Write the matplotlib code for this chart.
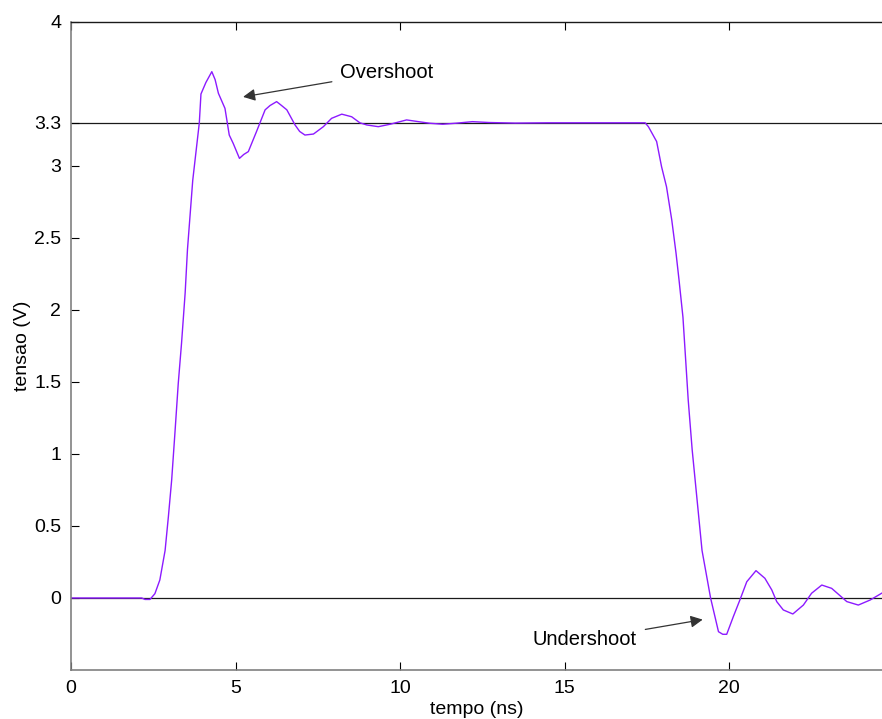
import matplotlib
matplotlib.use("Agg")
import matplotlib.pyplot as plt

plt.rcParams['font.family'] = ['Liberation Sans', 'DejaVu Sans']

# Simulated signal: time (ns) and voltage (V)
tempo = [0.0, 2.15, 2.25, 2.4, 2.55, 2.70, 2.86, 2.96, 3.06, 3.16, 3.26, 3.36,
         3.47, 3.54, 3.70, 3.90, 3.95, 4.10, 4.28, 4.38, 4.48, 4.68, 4.81,
         4.93, 5.12, 5.25, 5.39, 5.64, 5.90, 6.05, 6.25, 6.40, 6.56, 6.81,
         6.95, 7.11, 7.37, 7.67, 7.92, 8.23, 8.53, 8.78, 8.99, 9.34, 9.70,
         10.2, 10.5, 10.9, 11.3, 11.7, 12.2, 12.7, 13.5, 14.5, 15.5, 16.5,
         17.45, 17.55, 17.8, 17.95, 18.1, 18.26, 18.39, 18.48, 18.6, 18.76,
         18.88, 19.03, 19.18, 19.44, 19.68, 19.81, 19.93, 20.13, 20.33, 20.54,
         20.82, 21.09, 21.3, 21.45, 21.65, 21.94, 22.26, 22.51, 22.82, 23.12,
         23.58, 23.93, 24.29, 24.64]
tensao = [0.0, 0.0, -0.01, -0.01, 0.03, 0.125, 0.33, 0.565, 0.82, 1.15, 1.49, 1.77,
          2.12, 2.42, 2.90, 3.30, 3.50, 3.58, 3.655, 3.60, 3.505, 3.40, 3.215,
          3.157, 3.053, 3.08, 3.10, 3.24, 3.39, 3.42, 3.447, 3.42, 3.39, 3.285,
          3.24, 3.215, 3.222, 3.273, 3.331, 3.36, 3.342, 3.30, 3.285, 3.273, 3.29,
          3.32, 3.31, 3.297, 3.29, 3.297, 3.308, 3.302, 3.298, 3.300, 3.300, 3.300,
          3.300, 3.273, 3.17, 2.995, 2.856, 2.625, 2.394, 2.21, 1.95, 1.375,
          1.03, 0.68, 0.33, 0.0, -0.234, -0.252, -0.252, -0.13, -0.014, 0.113,
          0.19, 0.137, 0.056, -0.025, -0.083, -0.111, -0.049, 0.033, 0.09, 0.067,
          -0.025, -0.049, -0.014, 0.033]

xticks = [0, 5, 10, 15, 20]
yticks = [0, 0.5, 1, 1.5, 2, 2.5, 3, 3.3, 4]
ytick_labels = ['0', '0.5', '1', '1.5', '2', '2.5', '3', '3.3', '4']

FS = 14

fig = plt.figure(figsize=(8.82, 7.19), dpi=100)
ax = fig.add_axes([71 / 882, 1 - 670 / 719, 1 - 71 / 882, (670 - 22) / 719])

ax.axhline(3.3, color='#1a1a1a', lw=0.9, zorder=1)
ax.axhline(0, color='#1a1a1a', lw=0.9, zorder=1)
ax.plot(tempo, tensao, color='#8c1aff', lw=1.0, zorder=2)

ax.set_xlim(0, 24.65)
ax.set_ylim(-0.5, 4)
ax.set_xticks(xticks)
ax.set_yticks(yticks)
ax.set_yticklabels(ytick_labels)
ax.tick_params(direction='in', length=6, width=0.8, labelsize=FS,
               top=True, right=False)
ax.tick_params(axis='x', pad=7)
ax.tick_params(axis='y', pad=7)

for side in ('left', 'bottom'):
    ax.spines[side].set_color('#808080')
    ax.spines[side].set_linewidth(1.2)
ax.spines['top'].set_color('#1a1a1a')
ax.spines['top'].set_linewidth(1.0)
ax.spines['right'].set_visible(False)

ax.set_xlabel('tempo (ns)', fontsize=FS, labelpad=3)
ax.set_ylabel('tensao (V)', fontsize=FS, labelpad=2)

ax.annotate('Overshoot', xy=(5.23, 3.48), xytext=(8.18, 3.65),
            fontsize=14.5, va='center', ha='left',
            arrowprops=dict(arrowstyle='-|>', color='#333333', lw=0.9,
                            mutation_scale=18, shrinkA=4, shrinkB=0))
ax.annotate('Undershoot', xy=(19.2, -0.15), xytext=(14.04, -0.29),
            fontsize=14.5, va='center', ha='left',
            arrowprops=dict(arrowstyle='-|>', color='#333333', lw=0.9,
                            mutation_scale=18, shrinkA=4, shrinkB=0))

fig.savefig('out.png', dpi=100)
